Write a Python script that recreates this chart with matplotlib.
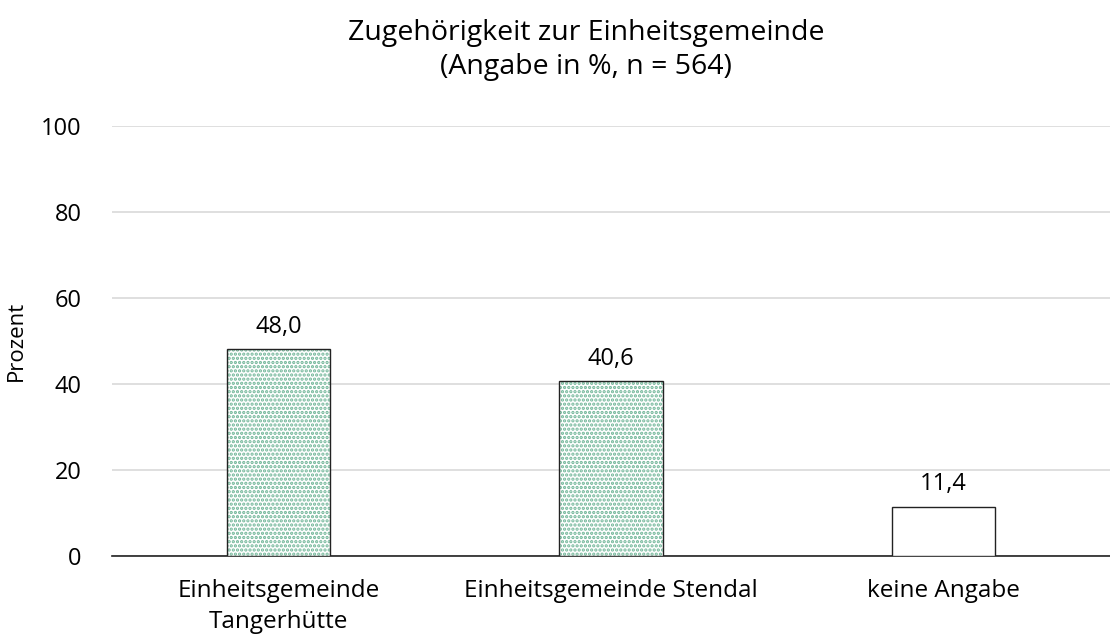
import matplotlib.pyplot as plt

plt.rcParams['font.family'] = ['Open Sans', 'DejaVu Sans']
plt.rcParams['hatch.linewidth'] = 1.6

# Data
categories = ['Einheitsgemeinde\nTangerhütte', 'Einheitsgemeinde Stendal', 'keine Angabe']
values = [48.0, 40.6, 11.4]
hatched = [True, True, False]

fig, ax = plt.subplots(figsize=(11.1, 6.36), dpi=100)
fig.subplots_adjust(left=0.101, right=1.0, top=0.802, bottom=0.126)

x_pos = range(len(categories))
for i, v in enumerate(values):
    if hatched[i]:
        # dotted fill in green, drawn separately so the outline stays dark
        ax.bar(i, v, width=0.31, color='white', edgecolor='#6fb597', linewidth=0,
               hatch='....', zorder=3)
    ax.bar(i, v, width=0.31, color='none' if hatched[i] else 'white',
           edgecolor='#222222', linewidth=1.0, zorder=4)
    ax.text(i, v + 2.5, f'{v:.1f}'.replace('.', ','), ha='center', va='bottom', fontsize=17)

ax.set_xlim(-0.5, 2.5)
ax.set_ylim(0, 100)
ax.set_yticks([0, 20, 40, 60, 80, 100])
ax.set_xticks(list(x_pos))
ax.set_xticklabels(categories, fontsize=17.5, linespacing=1.35)
ax.tick_params(axis='y', labelsize=17, length=0, pad=22)
ax.tick_params(axis='x', length=0, pad=17)
ax.set_ylabel('Prozent', fontsize=16, labelpad=10)

ax.grid(axis='y', color='#d9d9d9', linewidth=1.2, zorder=0)
for s in ['top', 'right', 'left']:
    ax.spines[s].set_visible(False)
ax.spines['bottom'].set_color('#222222')
ax.spines['bottom'].set_linewidth(1.2)

fig.text(0.528, 0.921, 'Zugehörigkeit zur Einheitsgemeinde\n(Angabe in %, n = 564)',
         ha='center', va='center', fontsize=20.5, linespacing=1.3)

plt.savefig('out.png', dpi=100)
